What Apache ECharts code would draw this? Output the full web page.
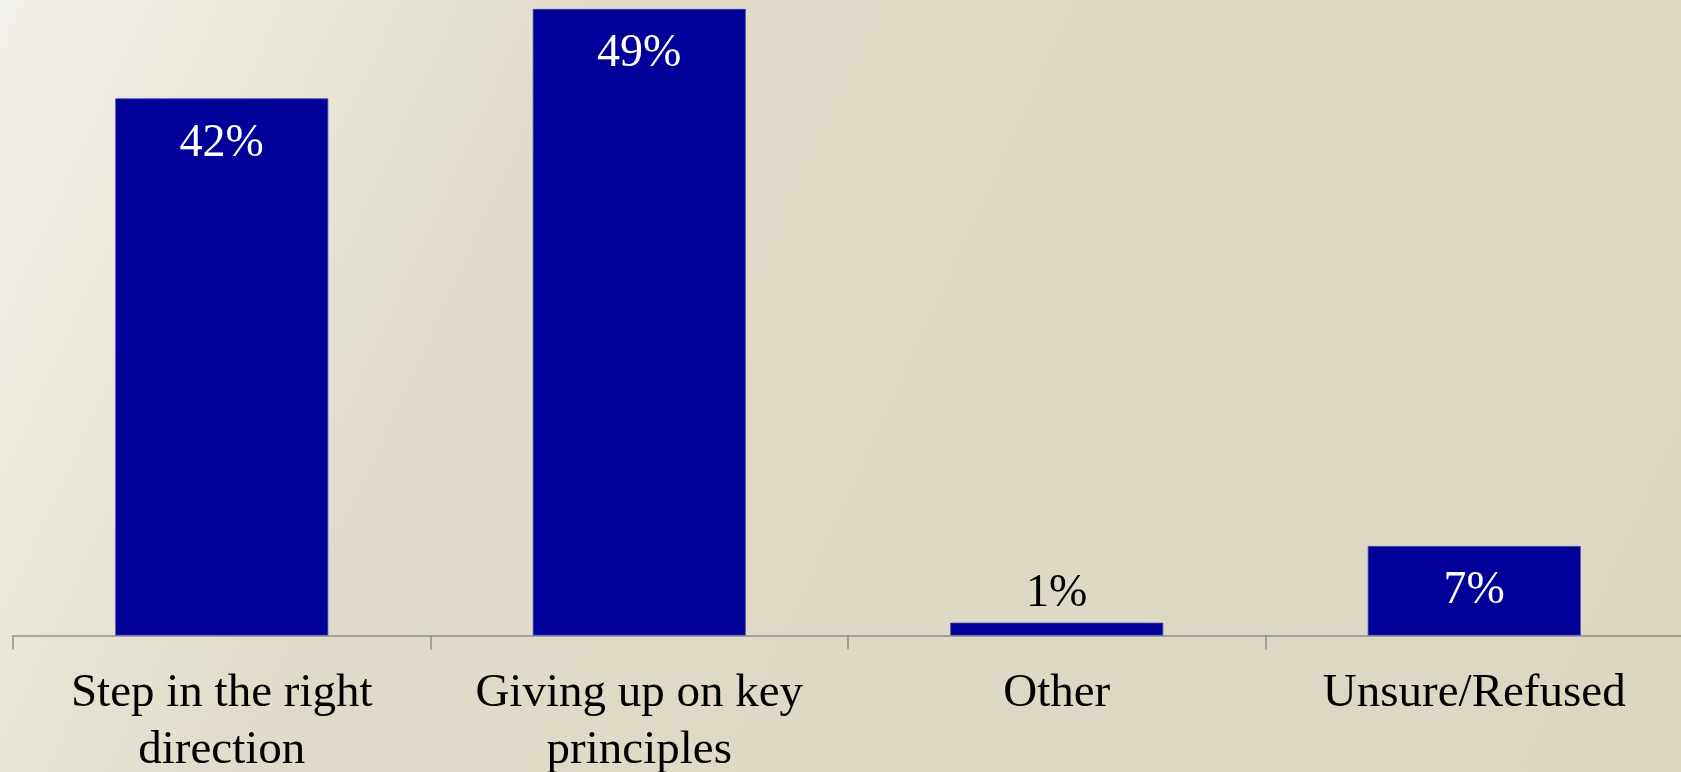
<!DOCTYPE html>
<html>
<head>
<meta charset="utf-8">
<script src="https://cdn.jsdelivr.net/npm/echarts@6/dist/echarts.min.js"></script>
<style>html,body{margin:0;padding:0;}#c{width:1681px;height:772px;}</style>
</head>
<body>
<div id="c"></div>
<script>
const categories = ['Step in the right\ndirection', 'Giving up on key\nprinciples', 'Other', 'Unsure/Refused'];
const values = [42, 49, 1, 7];
const labelInside = [true, true, false, true];

const chart = echarts.init(document.getElementById('c'));
const data = values.map((v, i) => ({
  value: v,
  label: labelInside[i]
    ? { position: 'insideTop', distance: 22, color: '#ffffff' }
    : { position: 'top', distance: 6, color: '#000000' }
}));
chart.setOption({
  backgroundColor: new echarts.graphic.LinearGradient(0, 0, 1, 1, [
    { offset: 0, color: '#f2f0ea' },
    { offset: 0.3, color: '#e0dbc8' },
    { offset: 1, color: '#dcd7c1' }
  ]),
  animation: false,
  grid: { left: 13, top: 0, width: 1670, height: 635.5, containLabel: false, outerBoundsMode: 'none' },
  xAxis: {
    type: 'category',
    data: categories,
    axisLine: { lineStyle: { color: '#8e8e8e', width: 1.5 } },
    axisTick: { show: true, length: 14, lineStyle: { color: '#8e8e8e', width: 1.5 } },
    axisLabel: {
      color: '#000000', fontFamily: 'Liberation Serif', fontSize: 47,
      lineHeight: 57, margin: 30, interval: 0
    }
  },
  yAxis: {
    type: 'value', min: 0, max: 49.7, show: false,
    splitLine: { show: false }
  },
  series: [{
    type: 'bar',
    data: data,
    barWidth: '51%',
    itemStyle: { color: '#000099', borderColor: '#3b3ba6', borderWidth: 0.8 },
    label: {
      show: true, formatter: '{c}%', fontFamily: 'Liberation Serif', fontSize: 46
    }
  }]
});
</script>
</body>
</html>
